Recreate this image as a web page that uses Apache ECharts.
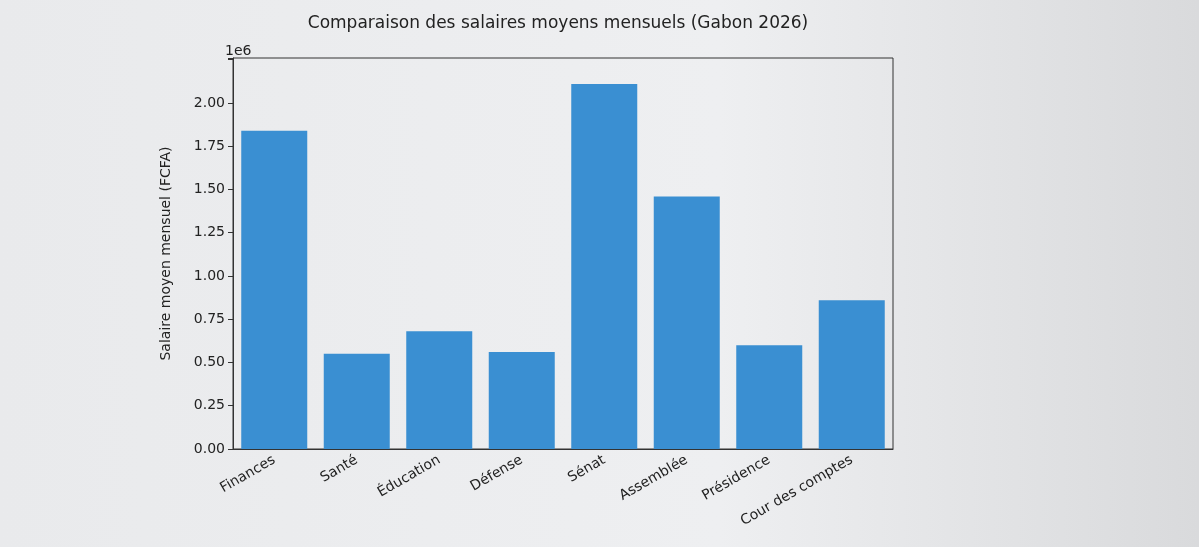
<!DOCTYPE html>
<html><head><meta charset="utf-8">
<script src="https://cdn.jsdelivr.net/npm/echarts@6/dist/echarts.min.js"></script>
<style>html,body{margin:0;padding:0;background:linear-gradient(90deg,#e9eaec,#eeeff1 60%,#d9dadc);}#c{width:1199px;height:547px;}</style>
</head><body><div id="c"></div>
<script>
const categories = ["Finances","Santé","Éducation","Défense","Sénat","Assemblée","Présidence","Cour des comptes"];
const salaries = [1840000,550000,680000,560000,2110000,1460000,600000,860000];
const chart = echarts.init(document.getElementById('c'));
chart.setOption({
  backgroundColor: 'transparent',
  textStyle:{fontFamily:'DejaVu Sans'},
  title:{text:'Comparaison des salaires moyens mensuels (Gabon 2026)',left:553,top:10,textAlign:'center',
    textStyle:{fontSize:17,fontWeight:'normal',color:'#222',fontFamily:'DejaVu Sans'}},
  graphic:[{type:'text',left:225,top:44,style:{text:'1e6',fontSize:14,fill:'#222',fontFamily:'DejaVu Sans'}}],
  grid:{left:233,right:306,top:58,bottom:98,show:true,borderColor:'#333',borderWidth:1},
  xAxis:{type:'category',data:categories,axisTick:{alignWithLabel:true,length:5,lineStyle:{color:'#333'}},
    axisLine:{lineStyle:{color:'#333'}},
    axisLabel:{rotate:30,fontSize:14,color:'#222',margin:10}},
  yAxis:{type:'value',min:0,max:2260000,interval:250000,
    name:'Salaire moyen mensuel (FCFA)',nameLocation:'middle',nameGap:60,nameTextStyle:{fontSize:14,color:'#222'},
    splitLine:{show:false},axisLine:{show:true,lineStyle:{color:'#333'}},
    axisTick:{show:true,length:5,lineStyle:{color:'#333'}},
    axisLabel:{fontSize:14,color:'#222',formatter:v=>(v%250000===0&&v<=2000000)?(v/1e6).toFixed(2):''}},
  series:[{type:'bar',data:salaries,barWidth:'80%',itemStyle:{color:'#3a8fd2'}}]
});
</script></body></html>
